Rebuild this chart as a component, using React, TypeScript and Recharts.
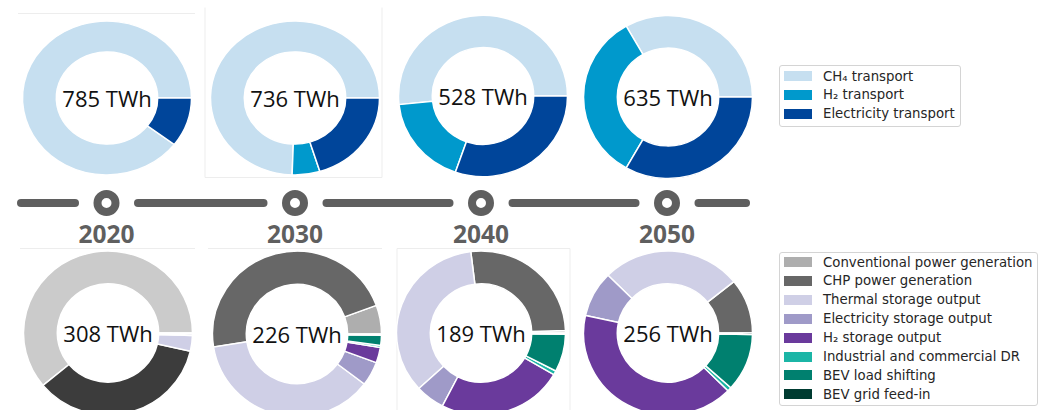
import { PieChart, Pie, Cell, Label } from 'recharts';

// years shown on the timeline
const years = ['2020', '2030', '2040', '2050'];

// upper row: energy transport (TWh)
const transportNames = ['CH₄ transport', 'H₂ transport', 'Electricity transport'];
const transportTotals = [785, 736, 528, 635];
const ch4Transport = [704, 548, 273, 211];
const h2Transport = [0, 39, 95, 213];
const elecTransport = [81, 149, 160, 211];

// lower row: flexibility provision (TWh)
const flexNames = [
  'Conventional power generation',
  'CHP power generation',
  'Thermal storage output',
  'Electricity storage output',
  'H₂ storage output',
  'Industrial and commercial DR',
  'BEV load shifting',
  'BEV grid feed-in',
];
const flexTotals = [308, 226, 189, 256];
const conventionalGen = [188, 12.7, 0.9, 0];
const chpGen = [109, 106, 50, 27.6];
const thermalStorage = [9.5, 84, 66, 68.6];
const elecStorage = [1.0, 10.6, 10.6, 23];
const h2Storage = [0.5, 6.8, 45.5, 105];
const industrialDR = [0, 0.9, 1.5, 2];
const bevShifting = [0, 4.5, 14, 29];
const bevFeedIn = [0, 0.5, 0.5, 0.8];

const transportSeries = [ch4Transport, h2Transport, elecTransport];
const flexSeries = [conventionalGen, chpGen, thermalStorage, elecStorage, h2Storage, industrialDR, bevShifting, bevFeedIn];

const transportColors = ['#c6dff0', '#0099cc', '#00459a'];
const flexColors = ['#aeaeae', '#676767', '#cfcfe6', '#9f9ac8', '#6a3a9c', '#1bb5a6', '#00806f', '#003b31'];
// the 2020 panel uses darker/lighter greys
const flexColors2020 = ['#cbcbcb', '#3c3c3c', ...flexColors.slice(2)];

// layout of the eight donuts (centre + vertical squash of each panel)
const R = 84.5;
const topPos = [
  { x: 107, y: 98, k: 0.91 },
  { x: 295, y: 98, k: 0.91 },
  { x: 483, y: 96, k: 0.955 },
  { x: 668, y: 97, k: 0.965 },
];
const bottomPos = [
  { x: 108, y: 333, k: 0.97 },
  { x: 297, y: 334, k: 0.98 },
  { x: 481, y: 333, k: 0.97 },
  { x: 668, y: 333, k: 0.97 },
];

const GREY = '#5f5f5f';

function Donut({ data, colors, total, x, y, k }: any) {
  const S = 190;
  const h = S / 2;
  const renderCenter = (p: any) => {
    const cy = p.viewBox?.cy ?? h;
    const cx = p.viewBox?.cx ?? h;
    return (
      <text
        x={cx}
        y={cy}
        textAnchor="middle"
        dominantBaseline="central"
        transform={`translate(0 ${cy}) scale(1 ${1 / k}) translate(0 ${-cy})`}
        style={{ fontFamily: '"Open Sans", sans-serif', fontSize: 22, fill: '#111' }}
      >
        {total} TWh
      </text>
    );
  };
  return (
    <div
      style={{
        position: 'absolute',
        left: x - h,
        top: y - h,
        width: S,
        height: S,
        transform: `scaleY(${k})`,
        transformOrigin: `${h}px ${h}px`,
      }}
    >
      <PieChart width={S} height={S} margin={{ top: 0, right: 0, bottom: 0, left: 0 }}>
        <Pie
          data={data}
          dataKey="value"
          nameKey="name"
          cx={h}
          cy={h}
          innerRadius={R * 0.6}
          outerRadius={R}
          startAngle={0}
          endAngle={360}
          stroke="#fff"
          strokeWidth={1.5}
          isAnimationActive={false}
        >
          {data.map((d: any, i: number) => (
            <Cell key={d.name} fill={colors[i]} />
          ))}
          <Label position="center" content={renderCenter} />
        </Pie>
      </PieChart>
    </div>
  );
}

function LegendBox({ names, colors, left, top, width, height, first }: any) {
  return (
    <div
      style={{
        position: 'absolute',
        left,
        top,
        width,
        height,
        boxSizing: 'border-box',
        border: '1px solid #d4d4d4',
        borderRadius: 3,
        fontFamily: '"DejaVu Sans", sans-serif',
        fontSize: 13.3,
        color: '#262626',
      }}
    >
      {names.map((n: string, i: number) => (
        <div
          key={n}
          style={{
            position: 'absolute',
            left: 4,
            top: first + i * 18.9,
            height: 19,
            display: 'flex',
            alignItems: 'center',
            whiteSpace: 'nowrap',
          }}
        >
          <span style={{ display: 'inline-block', width: 28, height: 10, background: colors[i], marginRight: 11 }} />
          {n}
        </div>
      ))}
    </div>
  );
}

function Timeline() {
  const xs = topPos.map((p, i) => (p.x + bottomPos[i].x) / 2 - 1);
  const stops = [17, ...xs.flatMap((x) => [x - 27.5, x + 27.5]), 750];
  const segs = [];
  for (let i = 0; i < stops.length; i += 2) segs.push([stops[i] + 4, stops[i + 1] - 4]);
  return (
    <svg width={1045} height={410} style={{ position: 'absolute', left: 0, top: 0 }}>
      {/* faint frames of the original panels */}
      <g stroke="#ededed" strokeWidth={1} fill="none">
        <line x1={18} y1={13.5} x2={195} y2={13.5} />
        <polyline points="205,7.5 205,177.5 382,177.5 382,7.5" />
        <line x1={20} y1={248.5} x2={195} y2={248.5} />
        <line x1={208} y1={248.5} x2={382} y2={248.5} />
        <polyline points="397,410 397,248.5 570,248.5 570,410" />
      </g>
      {segs.map(([a, b], i) => (
        <line key={i} x1={a} y1={203} x2={b} y2={203} stroke={GREY} strokeWidth={8} strokeLinecap="round" />
      ))}
      {xs.map((x, i) => (
        <g key={years[i]}>
          <circle cx={x} cy={203} r={9} fill="#fff" stroke={GREY} strokeWidth={8} />
          <text
            x={x}
            y={243}
            textAnchor="middle"
            style={{ fontFamily: '"Open Sans", sans-serif', fontWeight: 700, fontSize: 24.5, fill: GREY }}
          >
            {years[i]}
          </text>
        </g>
      ))}
    </svg>
  );
}

export default function App() {
  return (
    <div
      style={{
        position: 'absolute',
        left: 0,
        top: 0,
        width: 1045,
        height: 410,
        overflow: 'hidden',
        background: '#fff',
      }}
    >
      <Timeline />
      {years.map((yr, i) => (
        <Donut
          key={'t' + yr}
          data={transportNames.map((name, j) => ({ name, value: transportSeries[j][i] }))}
          colors={transportColors}
          total={transportTotals[i]}
          {...topPos[i]}
        />
      ))}
      {years.map((yr, i) => (
        <Donut
          key={'b' + yr}
          data={flexNames.map((name, j) => ({ name, value: flexSeries[j][i] }))}
          colors={i === 0 ? flexColors2020 : flexColors}
          total={flexTotals[i]}
          {...bottomPos[i]}
        />
      ))}
      <LegendBox names={transportNames} colors={transportColors} left={779} top={65} width={182} height={62} first={0.5} />
      <LegendBox names={flexNames} colors={flexColors} left={779} top={252} width={259} height={154} first={-0.5} />
    </div>
  );
}
